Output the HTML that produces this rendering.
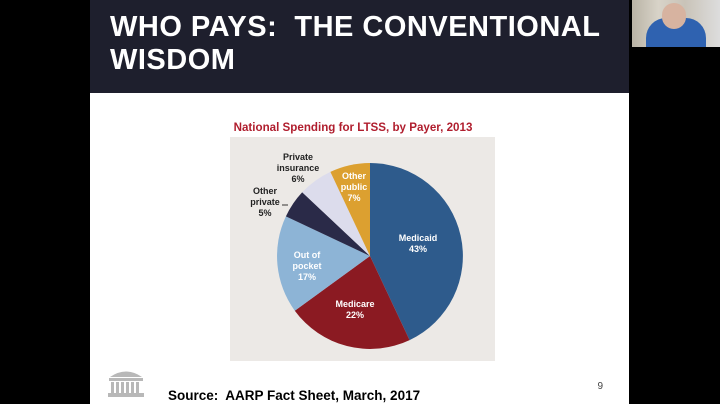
<!DOCTYPE html>
<html><head><style>
body{margin:0;width:720px;height:404px;background:#000;overflow:hidden;position:relative;font-family:"Liberation Sans",sans-serif}
.slide{position:absolute;left:90px;top:0;width:539px;height:404px;background:#fff}
.hdr{position:absolute;left:90px;top:0;width:539px;height:93px;background:#1e1f2d}
.t{position:absolute;left:110px;top:11px;color:#fff;font-weight:bold;font-size:29px;line-height:33px;letter-spacing:0.5px}
.cam{position:absolute;left:632px;top:0;width:88px;height:47px;background:linear-gradient(90deg,#b9b3a5 0,#d8d3c8 30%,#c9c3b8 60%,#ddd 100%)}
</style></head><body>
<div class="slide"></div>
<div class="hdr"></div>
<div class="t">WHO PAYS:&nbsp; THE CONVENTIONAL<br>WISDOM</div>
<div class="cam"><div style="position:absolute;left:14px;top:18px;width:60px;height:29px;background:#2f62b0;border-radius:20px 20px 0 0"></div><div style="position:absolute;left:30px;top:3px;width:24px;height:26px;background:#d7b3a0;border-radius:12px"></div></div>
<svg style="position:absolute;left:0;top:0" width="720" height="404">
<text x="353" y="131" text-anchor="middle" fill="#b01e2e" font-weight="bold" font-size="11.6" font-family="Liberation Sans">National Spending for LTSS, by Payer, 2013</text>
<rect x="230" y="137" width="265" height="224" fill="#ece9e6"/>
<g stroke="none">
<path d="M370 256 L370 163 A93 93 0 0 1 409.6 340.1Z" fill="#2e5b8c"/>
<path d="M370 256 L409.6 340.1 A93 93 0 0 1 294.8 310.7Z" fill="#8b1a22"/>
<path d="M370 256 L294.8 310.7 A93 93 0 0 1 285.9 216.4Z" fill="#8db4d6"/>
<path d="M370 256 L285.9 216.4 A93 93 0 0 1 302.2 192.3Z" fill="#2a2a48"/>
<path d="M370 256 L302.2 192.3 A93 93 0 0 1 330.4 171.9Z" fill="#dcdcec"/>
<path d="M370 256 L330.4 171.9 A93 93 0 0 1 370 163Z" fill="#dca030"/>
</g>
<line x1="282" y1="205" x2="288" y2="205" stroke="#333" stroke-width="1"/>
<g font-family="Liberation Sans" font-weight="bold" font-size="9" text-anchor="middle">
<text fill="#fff"><tspan x="418" y="241">Medicaid</tspan><tspan x="418" y="252">43%</tspan></text>
<text fill="#fff"><tspan x="355" y="307">Medicare</tspan><tspan x="355" y="318">22%</tspan></text>
<text fill="#fff"><tspan x="307" y="258">Out of</tspan><tspan x="307" y="269">pocket</tspan><tspan x="307" y="280">17%</tspan></text>
<text fill="#fff"><tspan x="354" y="179">Other</tspan><tspan x="354" y="190">public</tspan><tspan x="354" y="201">7%</tspan></text>
<text fill="#222"><tspan x="298" y="160">Private</tspan><tspan x="298" y="171">insurance</tspan><tspan x="298" y="182">6%</tspan></text>
<text fill="#222"><tspan x="265" y="194">Other</tspan><tspan x="265" y="205">private</tspan><tspan x="265" y="216">5%</tspan></text>
</g>
<g fill="#b8b8b8">
<path d="M110 377 Q126 366 142 377Z"/>
<rect x="109" y="378" width="34" height="3"/>
<rect x="111" y="382" width="3" height="11"/><rect x="116" y="382" width="3" height="11"/><rect x="121" y="382" width="3" height="11"/><rect x="126" y="382" width="3" height="11"/><rect x="131" y="382" width="3" height="11"/><rect x="136" y="382" width="3" height="11"/>
<rect x="108" y="393" width="36" height="4"/>
</g>
<text x="168" y="400" font-family="Liberation Sans" font-weight="bold" font-size="13.5" fill="#000">Source:&#160; AARP Fact Sheet, March, 2017</text>
<text x="603" y="389" font-family="Liberation Sans" font-size="10" fill="#444" text-anchor="end">9</text>
</svg>
</body></html>
